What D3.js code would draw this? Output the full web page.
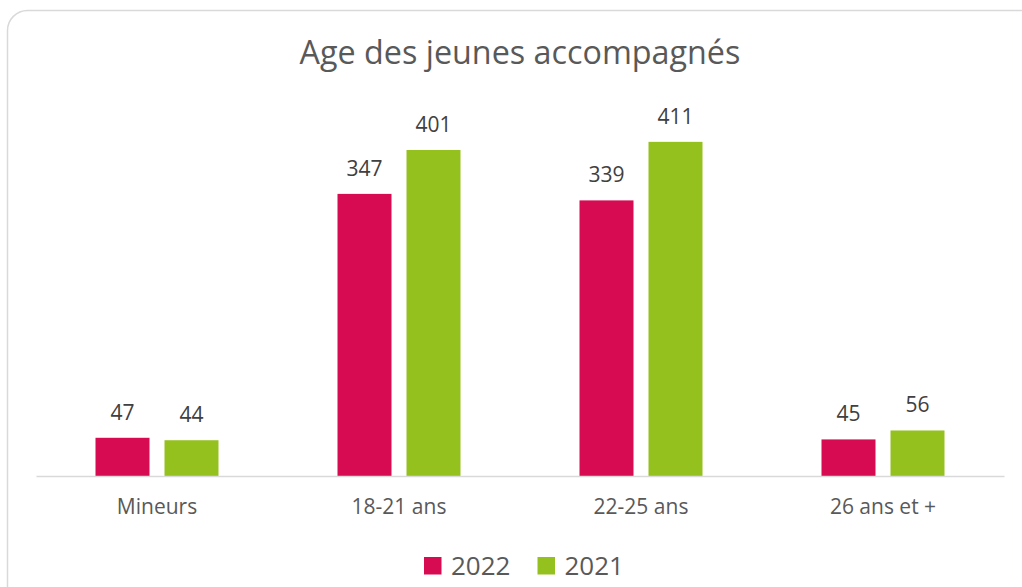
<!DOCTYPE html>
<html>
<head>
<meta charset="utf-8">
<script src="https://cdn.jsdelivr.net/npm/d3@7"></script>
<style>
  body { margin: 0; background: #fff; }
  svg { display: block; font-family: "Open Sans", "Noto Sans", sans-serif; }
</style>
</head>
<body>
<div id="chart"></div>
<script>
// chart data
var categories = ['Mineurs', '18-21 ans', '22-25 ans', '26 ans et +'];
var seriesNames = ['2022', '2021'];
var values2022 = [47, 347, 339, 45];
var values2021 = [44, 401, 411, 56];
var colors = ['#D60B52', '#95C11F'];

var width = 1022, height = 587;
var textColor = '#595959';

var svg = d3.select('#chart').append('svg')
    .attr('width', width)
    .attr('height', height);

// chart area frame (runs off the right and bottom edges)
svg.append('rect')
    .attr('x', 7.5).attr('y', 10.5)
    .attr('width', 1040).attr('height', 620)
    .attr('rx', 20).attr('ry', 20)
    .attr('fill', '#fff')
    .attr('stroke', '#D9D9D9')
    .attr('stroke-width', 1.5);

// title
svg.append('text')
    .attr('x', 520).attr('y', 64)
    .attr('text-anchor', 'middle')
    .attr('font-size', 32.3)
    .attr('fill', textColor)
    .text('Age des jeunes accompagnés');

var margin = {left: 36, right: 18},
    baseline = 476;

var x = d3.scaleBand()
    .domain(categories)
    .range([margin.left, width - margin.right])
    .paddingInner(0).paddingOuter(0);

var y = d3.scaleLinear()
    .domain([0, 450])
    .range([baseline, baseline - 0.813 * 450]);

// two bars per category, 54px wide with a 15px gap
var barW = 54, gap = 15;
var xs = d3.scaleBand()
    .domain(seriesNames)
    .range([x.bandwidth() / 2 - barW - gap / 2, x.bandwidth() / 2 + barW + gap / 2])
    .paddingInner(gap / (barW + gap));

var rows = categories.map(function (c, i) {
    return {cat: c, vals: [values2022[i], values2021[i]]};
});

var groups = svg.selectAll('g.cat')
    .data(rows)
    .enter().append('g')
    .attr('class', 'cat')
    .attr('transform', function (d) { return 'translate(' + x(d.cat) + ',0)'; });

groups.selectAll('rect')
    .data(function (d) { return d.vals.map(function (v, j) { return {s: seriesNames[j], v: v, j: j}; }); })
    .enter().append('rect')
    .attr('x', function (d) { return xs(d.s); })
    .attr('y', function (d) { return y(d.v); })
    .attr('width', xs.bandwidth())
    .attr('height', function (d) { return baseline - y(d.v); })
    .attr('fill', function (d) { return colors[d.j]; });

// data labels
groups.selectAll('text.lbl')
    .data(function (d) { return d.vals.map(function (v, j) { return {s: seriesNames[j], v: v}; }); })
    .enter().append('text')
    .attr('class', 'lbl')
    .attr('x', function (d) { return xs(d.s) + xs.bandwidth() / 2; })
    .attr('y', function (d) { return y(d.v) - 18; })
    .attr('text-anchor', 'middle')
    .attr('font-size', 21)
    .attr('fill', '#404040')
    .text(function (d) { return d.v; });

// category axis
var axis = svg.append('g')
    .attr('transform', 'translate(0,' + baseline + ')')
    .call(d3.axisBottom(x).tickSize(0).tickPadding(23));
axis.select('.domain').attr('stroke', '#D9D9D9').attr('stroke-width', 1.5);
axis.selectAll('text')
    .attr('font-size', 21)
    .attr('font-family', '"Open Sans", "Noto Sans", sans-serif')
    .attr('fill', textColor);

// legend
var legend = svg.append('g').attr('transform', 'translate(424,0)');
var items = legend.selectAll('g')
    .data(seriesNames)
    .enter().append('g')
    .attr('transform', function (d, i) { return 'translate(' + (i * 113.5) + ',0)'; });
items.append('rect')
    .attr('y', 557).attr('width', 17.5).attr('height', 17.5)
    .attr('fill', function (d, i) { return colors[i]; });
items.append('text')
    .attr('x', 27).attr('y', 574.5)
    .attr('font-size', 26)
    .attr('fill', textColor)
    .text(function (d) { return d; });
</script>
</body>
</html>
